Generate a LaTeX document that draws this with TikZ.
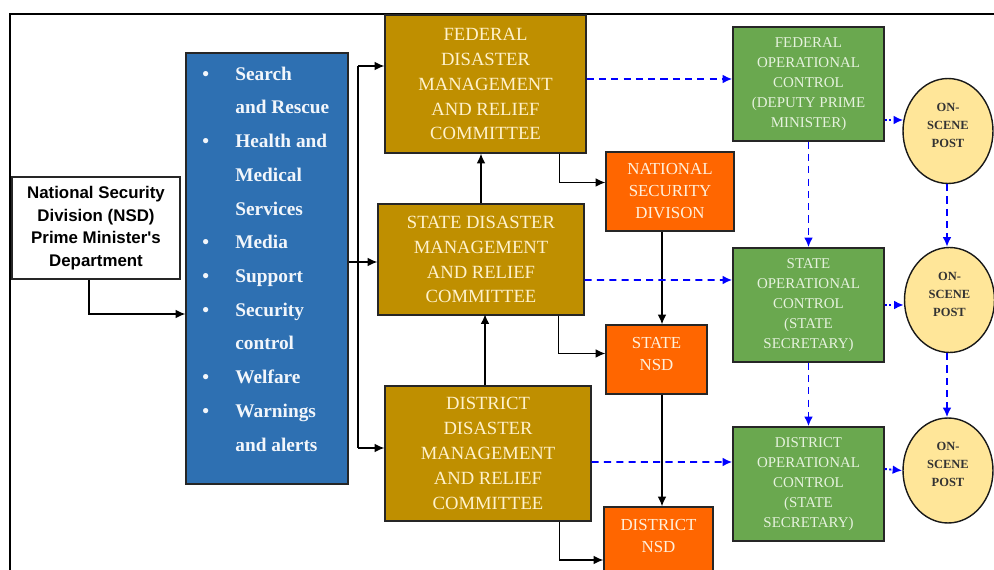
\documentclass[tikz,border=0pt]{standalone}
\usepackage{fontspec}
\setmainfont{Liberation Serif}
\newfontfamily\headfont{Liberation Sans}
\usetikzlibrary{calc,shapes.geometric,arrows.meta}
\definecolor{commgold}{HTML}{BF8F00}
\definecolor{commtext}{HTML}{FFF2CC}
\definecolor{nsdorange}{HTML}{FF6600}
\definecolor{nsdtext}{HTML}{FFF0DC}
\definecolor{opgreen}{HTML}{6AA84F}
\definecolor{optext}{HTML}{E6F2DE}
\definecolor{taskblue}{HTML}{2E70B2}
\definecolor{tasktext}{HTML}{F2F6FB}
\definecolor{postyellow}{HTML}{FFE699}
\tikzstyle{box}=[rectangle, draw=black!85, line width=0.8pt, inner sep=0pt, align=center, anchor=center]
\tikzstyle{committee}=[box, fill=commgold, text=commtext, font=\fontsize{10.6}{14.2}\selectfont]
\tikzstyle{nsdbox}=[box, fill=nsdorange, text=nsdtext, font=\fontsize{9.6}{12.5}\selectfont]
\tikzstyle{opbox}=[box, fill=opgreen, text=optext, minimum width=3.02cm, minimum height=2.28cm, font=\fontsize{8.5}{11.4}\selectfont]
\tikzstyle{post}=[ellipse, draw=black!90, line width=0.8pt, fill=postyellow, text=black!80, inner sep=0pt, align=center, text depth=6.5pt, minimum width=1.8cm, minimum height=2.1cm, font=\bfseries\fontsize{7.1}{10.2}\selectfont]
\tikzstyle{tasklist}=[inner sep=0pt, align=left, text=tasktext, font=\bfseries\fontsize{11}{19.2}\selectfont]
\tikzstyle{arrow}=[-{Latex[length=5.5pt,width=5pt]}, line width=0.85pt]
\tikzstyle{dasharrow}=[-{Latex[length=5.5pt,width=5pt]}, blue, line width=1.1pt, dash pattern=on 4pt off 3pt]
\tikzstyle{dotarrow}=[-{Latex[length=5.5pt,width=5pt]}, blue, line width=1.1pt, dash pattern=on 1.2pt off 1.4pt]
\newcommand{\taskitem}[1]{\makebox[18.8pt][l]{\textbullet}#1}
\newcommand{\taskcont}[1]{\hspace*{18.8pt}#1}

\begin{document}
\begin{tikzpicture}[x=0.02cm, y=-0.02cm]
	\clip (0,0) rectangle (994,570);
	\fill[white] (0,0) rectangle (994,570);
	\draw[line width=1.1pt] (10,580) -- (10,14) -- (1000,14);

	\node[box, fill=white, minimum width=3.36cm, minimum height=2.04cm, font=\headfont\bfseries\fontsize{9.6}{12.9}\selectfont](nsddept) at (96,228){National Security\\Division (NSD)\\Prime Minister's\\Department};
	\node[box, fill=taskblue, minimum width=3.24cm, minimum height=8.62cm](tasks) at (267,268.5){};
	\node[tasklist, anchor=west](tasklist) at (202,259){\taskitem{Search}\\\taskcont{and Rescue}\\\taskitem{Health and}\\\taskcont{Medical}\\\taskcont{Services}\\\taskitem{Media}\\\taskitem{Support}\\\taskitem{Security}\\\taskcont{control}\\\taskitem{Welfare}\\\taskitem{Warnings}\\\taskcont{and alerts}};

	\node[committee, minimum width=4.02cm, minimum height=2.76cm](fed) at (485.5,84){FEDERAL\\DISASTER\\MANAGEMENT\\AND RELIEF\\COMMITTEE};
	\node[committee, minimum width=4.12cm, minimum height=2.22cm](state) at (481,259.5){STATE DISASTER\\MANAGEMENT\\AND RELIEF\\COMMITTEE};
	\node[committee, minimum width=4.12cm, minimum height=2.7cm](dist) at (488,453.5){DISTRICT\\DISASTER\\MANAGEMENT\\AND RELIEF\\COMMITTEE};

	\node[nsdbox, minimum width=2.56cm, minimum height=1.58cm](natnsd) at (670,191.5){NATIONAL\\SECURITY\\DIVISON};
	\node[nsdbox, text depth=6.5pt, minimum width=2.02cm, minimum height=1.38cm](statensd) at (656.5,359.5){STATE\\NSD};
	\node[nsdbox, text depth=6.5pt, minimum width=2.18cm, minimum height=1.38cm](distnsd) at (658.5,541.5){DISTRICT\\NSD};

	\node[opbox](foc) at (808.5,84){FEDERAL\\OPERATIONAL\\CONTROL\\(DEPUTY PRIME\\MINISTER)};
	\node[opbox](soc) at (808.5,305){STATE\\OPERATIONAL\\CONTROL\\(STATE\\SECRETARY)};
	\node[opbox](doc) at (808.5,484){DISTRICT\\OPERATIONAL\\CONTROL\\(STATE\\SECRETARY)};

	\node[post](post1) at (948,131){ON-\\SCENE\\POST};
	\node[post](post2) at (949.5,300){ON-\\SCENE\\POST};
	\node[post](post3) at (948,470.5){ON-\\SCENE\\POST};

	% department to tasks
	\draw[arrow] ($(nsddept.south)+(-7,0)$) |- ($(tasks.west)+(0,45.5)$);
	% tasks to committees
	\coordinate (bustop) at (358,66);
	\coordinate (busbot) at (358,448);
	\draw[line width=0.85pt] (bustop) -- (busbot);
	\draw[arrow] (bustop) -- (bustop -| fed.west);
	\draw[arrow] (busbot) -- (busbot -| dist.west);
	\draw[arrow] (tasks.east |- 0,262) -- (state.west |- 0,262);
	\draw[arrow] (state.north) -- (state.north |- fed.south);
	\draw[arrow] ($(dist.north)+(-3,0)$) -- ($(dist.north)+(-3,-71)$);

	% committees to nsd
	\draw[arrow] ($(fed.south east)+(-27,0)$) |- ($(natnsd.west)+(0,-9)$);
	\draw[arrow] ($(state.south east)+(-26,0)$) |- ($(statensd.west)+(0,-6)$);
	\draw[arrow] ($(dist.south east)+(-32,0)$) |- ($(distnsd.west)+(0,18.5)$);
	\coordinate (nsdline) at ($(natnsd.south)+(-8,0)$);
	\draw[arrow] (nsdline) -- (nsdline |- statensd.north);
	\draw[arrow] (nsdline |- statensd.south) -- (nsdline |- distnsd.north);

	% operational control
	\draw[dasharrow] ($(fed.east)+(0,-5)$) -- ($(foc.west)+(0,-5)$);
	\draw[dasharrow] ($(state.east)+(0,20.5)$) -- ($(soc.west)+(0,-25)$);
	\draw[dasharrow] ($(dist.east)+(0,8.5)$) -- ($(doc.west)+(0,-22)$);
	\draw[dasharrow] (foc.south) -- (soc.north);
	\draw[dasharrow] (soc.south) -- (doc.north);
	\draw[dotarrow] ($(foc.east)+(0,36)$) -- ($(post1.west)+(1,-11)$);
	\draw[dotarrow] (soc.east) -- (soc.east -| post2.west);
	\draw[dotarrow] ($(doc.east)+(0,-15)$) -- (post3.west);
	\draw[dasharrow] ($(post1.south)+(-1,0)$) -- ($(post2.north)+(-2.5,0)$);
	\draw[dasharrow] ($(post2.south)+(-2.5,0)$) -- ($(post3.north)+(-1,0)$);
\end{tikzpicture}
\end{document}
